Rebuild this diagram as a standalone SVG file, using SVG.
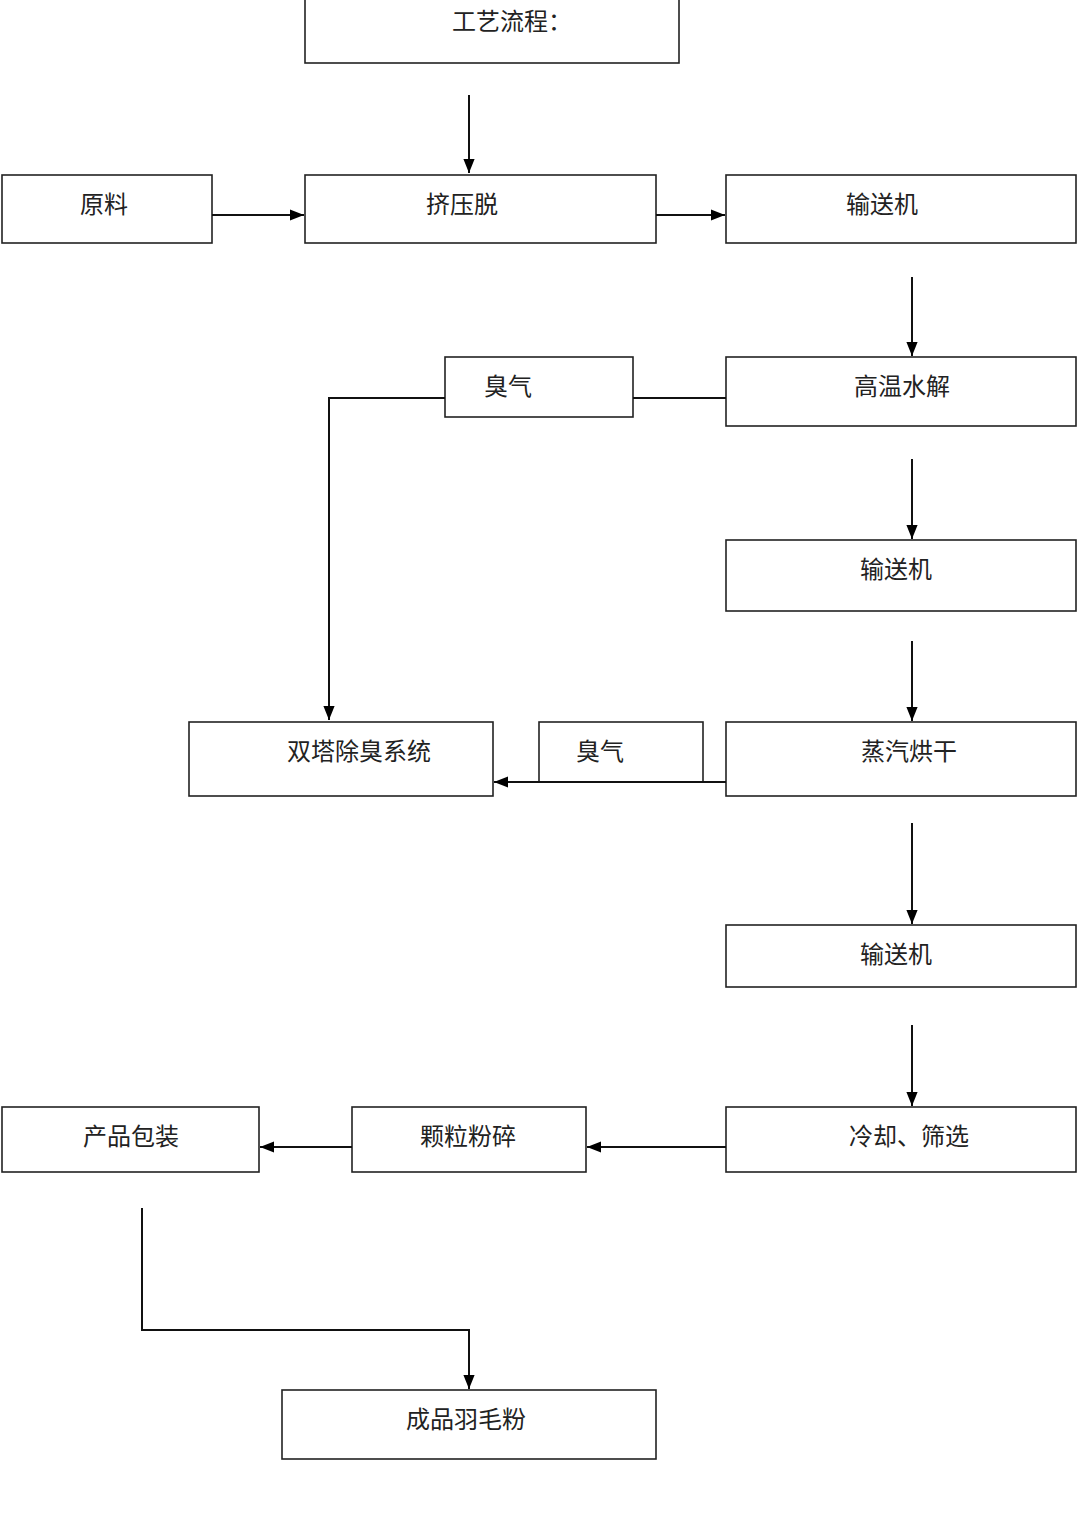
<svg xmlns="http://www.w3.org/2000/svg" width="1080" height="1526" viewBox="0 0 1080 1526">
<defs><marker id="a" viewBox="0 0 10 10" refX="10" refY="5" markerWidth="7" markerHeight="7" orient="auto"><path d="M0,1 L10,5 L0,9 z" fill="#000"/></marker></defs>
<style>.b{fill:#fff;stroke:#222;stroke-width:1.6}text{font-family:"Noto Sans CJK SC",sans-serif;font-size:24px;fill:#222;text-anchor:middle}.c line,.c polyline{stroke:#111;stroke-width:2;fill:none}</style>
<rect width="1080" height="1526" fill="#fff"/>
<g id="n0"><rect class="b" x="305" y="-2" width="374" height="65"/><text x="512" y="30">工艺流程：</text></g>
<g id="n1"><rect class="b" x="2" y="175" width="210" height="68"/><text x="104" y="213">原料</text></g>
<g id="n2"><rect class="b" x="305" y="175" width="351" height="68"/><text x="462" y="213">挤压脱</text></g>
<g id="n3"><rect class="b" x="726" y="175" width="350" height="68"/><text x="882" y="213">输送机</text></g>
<g id="n4"><rect class="b" x="445" y="357" width="188" height="60"/><text x="508" y="395">臭气</text></g>
<g id="n5"><rect class="b" x="726" y="357" width="350" height="69"/><text x="902" y="395">高温水解</text></g>
<g id="n6"><rect class="b" x="726" y="540" width="350" height="71"/><text x="896" y="578">输送机</text></g>
<g id="n7"><rect class="b" x="189" y="722" width="304" height="74"/><text x="359" y="760">双塔除臭系统</text></g>
<g id="n8"><rect class="b" x="539" y="722" width="164" height="60"/><text x="600" y="760">臭气</text></g>
<g id="n9"><rect class="b" x="726" y="722" width="350" height="74"/><text x="909" y="760">蒸汽烘干</text></g>
<g id="n10"><rect class="b" x="726" y="925" width="350" height="62"/><text x="896" y="963">输送机</text></g>
<g id="n11"><rect class="b" x="726" y="1107" width="350" height="65"/><text x="909" y="1145">冷却、筛选</text></g>
<g id="n12"><rect class="b" x="352" y="1107" width="234" height="65"/><text x="468" y="1145">颗粒粉碎</text></g>
<g id="n13"><rect class="b" x="2" y="1107" width="257" height="65"/><text x="131" y="1145">产品包装</text></g>
<g id="n14"><rect class="b" x="282" y="1390" width="374" height="69"/><text x="466" y="1428">成品羽毛粉</text></g>
<g class="c">
<line x1="469" y1="95" x2="469" y2="173" marker-end="url(#a)"/>
<line x1="212" y1="215" x2="304" y2="215" marker-end="url(#a)"/>
<line x1="656" y1="215" x2="725" y2="215" marker-end="url(#a)"/>
<line x1="912" y1="277" x2="912" y2="356" marker-end="url(#a)"/>
<line x1="633" y1="398" x2="726" y2="398"/>
<polyline points="445,398 329,398 329,720" marker-end="url(#a)"/>
<line x1="912" y1="459" x2="912" y2="539" marker-end="url(#a)"/>
<line x1="912" y1="641" x2="912" y2="721" marker-end="url(#a)"/>
<line x1="726" y1="782" x2="494" y2="782" marker-end="url(#a)"/>
<line x1="912" y1="823" x2="912" y2="924" marker-end="url(#a)"/>
<line x1="912" y1="1025" x2="912" y2="1106" marker-end="url(#a)"/>
<line x1="726" y1="1147" x2="587" y2="1147" marker-end="url(#a)"/>
<line x1="352" y1="1147" x2="260" y2="1147" marker-end="url(#a)"/>
<polyline points="142,1208 142,1330 469,1330 469,1389" marker-end="url(#a)"/>
</g>
</svg>
